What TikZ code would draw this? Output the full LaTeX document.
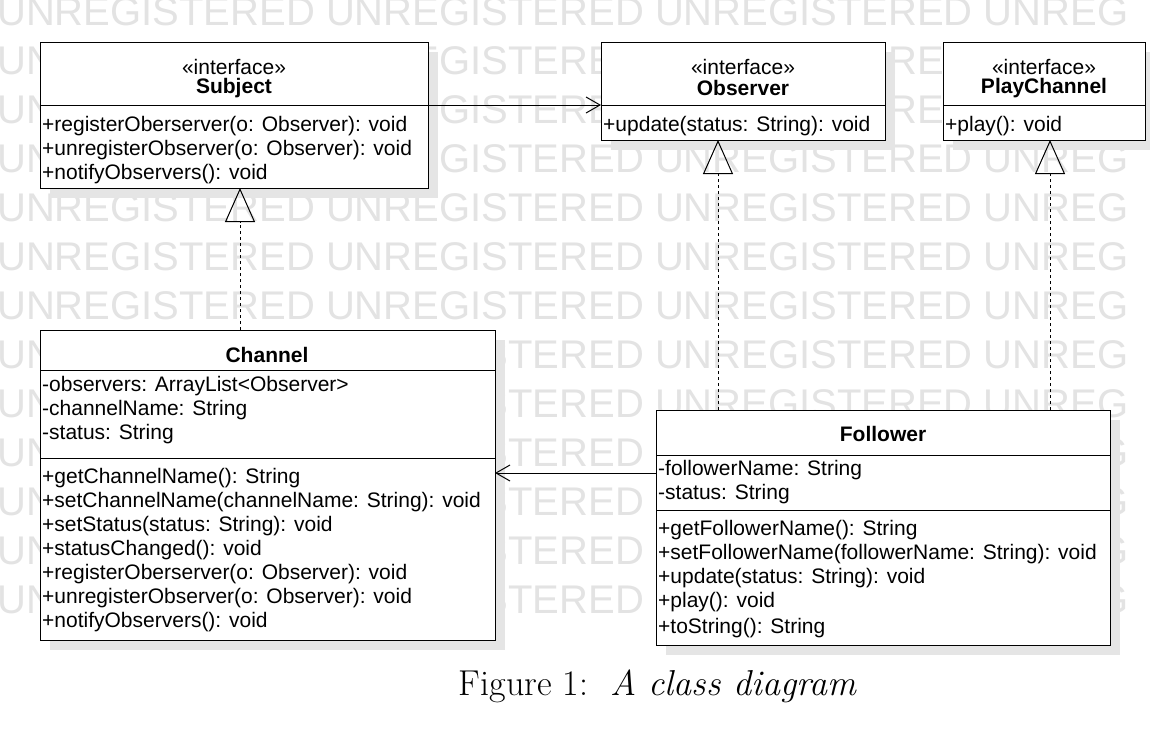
\documentclass[tikz,border=0pt]{standalone}
\usepackage{fontspec}
\setmainfont{Liberation Sans}
\newfontfamily\lmfont{Latin Modern Roman}
\usetikzlibrary{arrows.meta}
\begin{document}
\begin{tikzpicture}[x=1pt,y=-1pt,
  cls/.style={draw=black,fill=white,line width=1pt},
  shd/.style={fill=black!10,draw=none},
  txt/.style={anchor=west,inner sep=0pt,font=\fontsize{21}{24}\selectfont},
  ctxt/.style={anchor=center,inner sep=0pt,font=\fontsize{21}{24}\selectfont},
  real/.style={dashed,line width=1pt,-{Triangle[open,length=34pt,width=30pt]}},
  assoc/.style={line width=1pt,-{Straight Barb[length=14pt,width=16pt]}},
  wm/.style={anchor=west,inner sep=0pt,text=black!11,font=\fontsize{40}{40}\selectfont}]
\useasboundingbox (0,0) rectangle (1150,737);
\fill[white] (0,0) rectangle (1150,737);
\foreach \i in {0,...,12}{
  \node[wm] at (-3,{12+\i*49}) {UNREGISTERED UNREGISTERED UNREGISTERED UNREG};
}
% shadows
\fill[shd] (50,52) rectangle (438,198);
\fill[shd] (611,52) rectangle (895,150);
\fill[shd] (953,52) rectangle (1150,150);
\fill[shd] (50,340) rectangle (505,650);
\fill[shd] (666,420) rectangle (1120,655);
% Subject
\draw[cls] (40,42) rectangle (428,188);
\coordinate (subB) at (240,188);
\coordinate (subR) at (428,105);
\draw[line width=1pt] (40,105) -- (428,105);
\node[ctxt] at (234,67) {«interface»};
\node[ctxt] at (234,88) {\bfseries Subject};
\node[txt] at (42,126) {+registerOberserver(o: Observer): void};
\node[txt] at (42,150) {+unregisterObserver(o: Observer): void};
\node[txt] at (42,174) {+notifyObservers(): void};
% Observer
\draw[cls] (601,42) rectangle (885,140);
\draw[line width=1pt] (601,105) -- (885,105);
\node[ctxt] at (743,67) {«interface»};
\node[ctxt] at (743,88) {\bfseries Observer};
\node[txt] at (603,126) {+update(status: String): void};
\coordinate (obsL) at (601,105);
\coordinate (obsB) at (718,140);
% PlayChannel
\draw[cls] (943,42) rectangle (1145,140);
\draw[line width=1pt] (943,105) -- (1145,105);
\node[ctxt] at (1044,67) {«interface»};
\node[ctxt] at (1044,88) {\bfseries PlayChannel};
\node[txt] at (945,126) {+play(): void};
\coordinate (pcB) at (1050,140);
% Channel
\draw[cls] (40,330) rectangle (495,640);
\draw[line width=1pt] (40,370) -- (495,370);
\draw[line width=1pt] (40,458) -- (495,458);
\node[ctxt] at (267,355) {\bfseries Channel};
\node[txt] at (42,386) {-observers: ArrayList<Observer>};
\node[txt] at (42,410) {-channelName: String};
\node[txt] at (42,434) {-status: String};
\node[txt] at (42,478) {+getChannelName(): String};
\node[txt] at (42,502) {+setChannelName(channelName: String): void};
\node[txt] at (42,526) {+setStatus(status: String): void};
\node[txt] at (42,550) {+statusChanged(): void};
\node[txt] at (42,574) {+registerOberserver(o: Observer): void};
\node[txt] at (42,598) {+unregisterObserver(o: Observer): void};
\node[txt] at (42,622) {+notifyObservers(): void};
\coordinate (chT) at (240,330);
\coordinate (chR) at (495,473);
% Follower
\draw[cls] (656,410) rectangle (1110,645);
\draw[line width=1pt] (656,455) -- (1110,455);
\draw[line width=1pt] (656,510) -- (1110,510);
\node[ctxt] at (883,434) {\bfseries Follower};
\node[txt] at (658,470) {-followerName: String};
\node[txt] at (658,494) {-status: String};
\node[txt] at (658,530) {+getFollowerName(): String};
\node[txt] at (658,554) {+setFollowerName(followerName: String): void};
\node[txt] at (658,578) {+update(status: String): void};
\node[txt] at (658,602) {+play(): void};
\node[txt] at (658,628) {+toString(): String};
\coordinate (foL) at (656,473);
\coordinate (foT1) at (718,410);
\coordinate (foT2) at (1050,410);
% connectors
\draw[assoc] (subR) -- (obsL);
\draw[assoc] (foL) -- (chR);
\draw[real] (chT) -- (subB);
\draw[real] (foT1) -- (obsB);
\draw[real] (foT2) -- (pcB);
% caption
\node[anchor=center,inner sep=0pt,font=\lmfont\fontsize{36}{40}\selectfont] at (658,686) {Figure 1:\ \ \textit{A class diagram}};
\end{tikzpicture}
\end{document}
